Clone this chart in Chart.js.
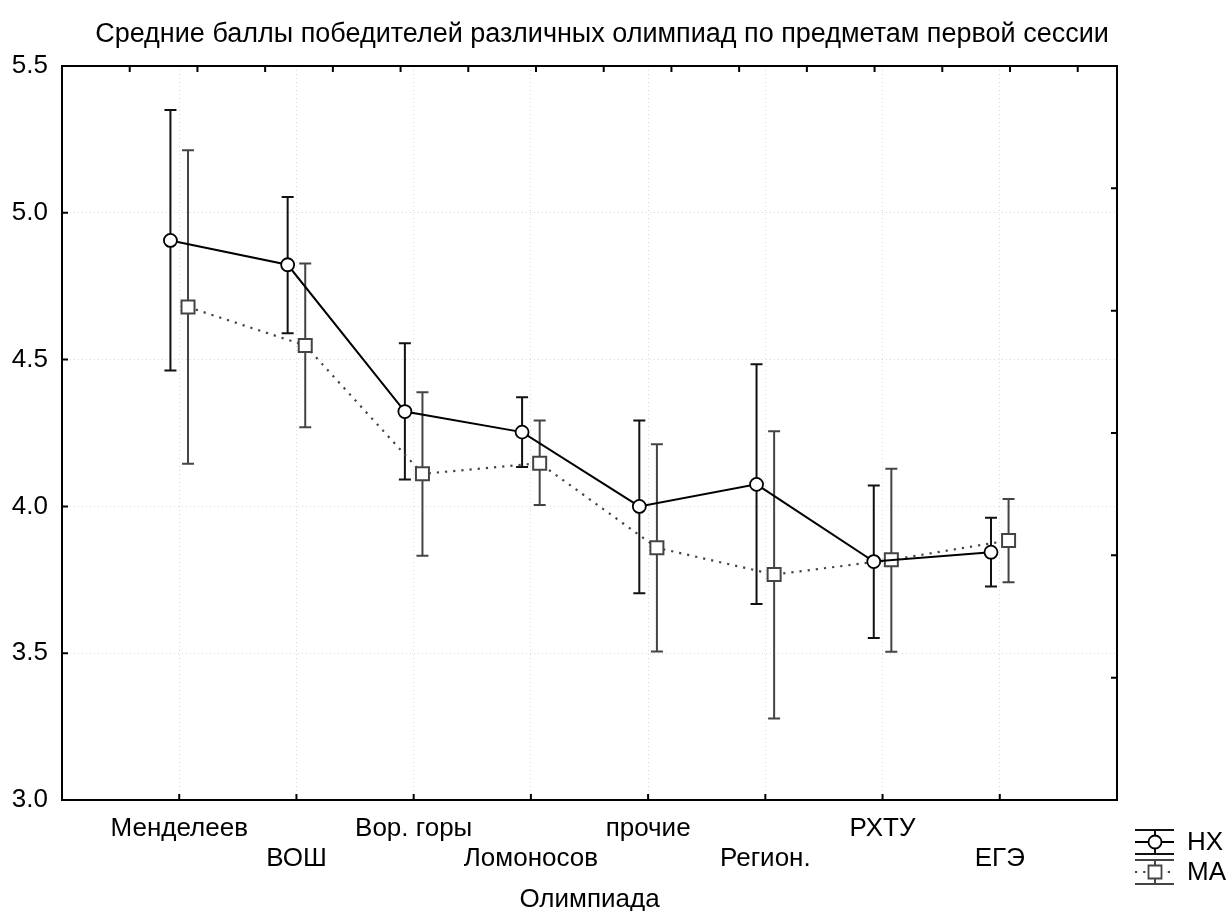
<!DOCTYPE html>
<html>
<head>
<meta charset="utf-8">
<script src="https://cdn.jsdelivr.net/npm/chart.js@4.4.1/dist/chart.umd.min.js"></script>
<style>
  body { margin: 0; background: #fff; }
  #wrap { width: 1228px; height: 911px; }
</style>
</head>
<body>
<div id="wrap"><canvas id="olympChart" width="1228" height="911"></canvas></div>
<script>
// Данные (средние и границы)
const categories = ['Менделеев', 'ВОШ', 'Вор. горы', 'Ломоносов', 'прочие', 'Регион.', 'РХТУ', 'ЕГЭ'];
const nxMean = [4.906, 4.823, 4.323, 4.253, 4.000, 4.075, 3.812, 3.844];
const nxLow  = [4.463, 4.590, 4.092, 4.134, 3.704, 3.668, 3.552, 3.727];
const nxHigh = [5.350, 5.054, 4.556, 4.372, 4.293, 4.484, 4.071, 3.961];
const maMean = [4.679, 4.548, 4.111, 4.147, 3.859, 3.768, 3.818, 3.884];
const maLow  = [4.145, 4.270, 3.832, 4.005, 3.506, 3.278, 3.505, 3.742];
const maHigh = [5.213, 4.827, 4.389, 4.293, 4.212, 4.256, 4.128, 4.025];
const seriesNames = ['НХ', 'МА'];

const FONT = "'Liberation Sans', Arial, sans-serif";

function buildPoints(mean, low, high, shift) {
    return mean.map((v, i) => ({ x: i + 1 + shift, y: v, low: low[i], high: high[i] }));
}

// Планки погрешностей
const errorBars = {
    id: 'errorBars',
    beforeDatasetsDraw(chart) {
        const ctx = chart.ctx;
        const xs = chart.scales.x, ys = chart.scales.y;
        chart.data.datasets.slice().reverse().forEach(ds => {
            ctx.save();
            ctx.strokeStyle = ds.barColor;
            ctx.lineWidth = 2;
            ds.data.forEach(p => {
                const px = xs.getPixelForValue(p.x);
                const top = ys.getPixelForValue(p.high);
                const bot = ys.getPixelForValue(p.low);
                ctx.beginPath();
                ctx.moveTo(px, top); ctx.lineTo(px, bot);
                ctx.moveTo(px - 6, top); ctx.lineTo(px + 6, top);
                ctx.moveTo(px - 6, bot); ctx.lineTo(px + 6, bot);
                ctx.stroke();
            });
            ctx.restore();
        });
    }
};

// Рамка и внутренние засечки
const frameTicks = {
    id: 'frameTicks',
    afterDraw(chart) {
        const ctx = chart.ctx;
        const a = chart.chartArea;
        const s = chart.scales;
        const len = 6;
        ctx.save();
        ctx.strokeStyle = '#000';
        ctx.lineWidth = 2;
        ctx.strokeRect(a.left, a.top, a.right - a.left, a.bottom - a.top);
        ctx.beginPath();
        s.y.ticks.forEach(t => {
            const py = s.y.getPixelForValue(t.value);
            ctx.moveTo(a.left, py); ctx.lineTo(a.left + len, py);
        });
        s.x.ticks.forEach(t => {
            const px = s.x.getPixelForValue(t.value);
            ctx.moveTo(px, a.bottom); ctx.lineTo(px, a.bottom - len);
        });
        for (let k = 1; k < s.x2.max; k++) {
            const px = s.x2.getPixelForValue(k);
            ctx.moveTo(px, a.top); ctx.lineTo(px, a.top + len);
        }
        for (let k = 1; k < s.y2.max; k++) {
            const py = s.y2.getPixelForValue(k);
            ctx.moveTo(a.right, py); ctx.lineTo(a.right - len, py);
        }
        ctx.stroke();
        ctx.restore();
    }
};

// Легенда справа внизу
const cornerLegend = {
    id: 'cornerLegend',
    afterDraw(chart) {
        const ctx = chart.ctx;
        const x0 = 1135, x1 = 1174, cx = 1155;
        chart.data.datasets.forEach((ds, i) => {
            const cy = 842 + i * 30;
            ctx.save();
            ctx.strokeStyle = ds.barColor;
            ctx.lineWidth = 2;
            ctx.beginPath();
            ctx.moveTo(x0, cy - 12); ctx.lineTo(x1, cy - 12);
            ctx.moveTo(x0, cy + 12); ctx.lineTo(x1, cy + 12);
            ctx.moveTo(cx, cy - 12); ctx.lineTo(cx, cy + 12);
            ctx.stroke();
            ctx.strokeStyle = ds.borderColor;
            ctx.setLineDash(ds.borderDash || []);
            ctx.beginPath();
            ctx.moveTo(x0, cy); ctx.lineTo(x1, cy);
            ctx.stroke();
            ctx.setLineDash([]);
            ctx.fillStyle = '#fff';
            ctx.strokeStyle = ds.pointBorderColor;
            ctx.lineWidth = 1.8;
            ctx.beginPath();
            if (ds.pointStyle === 'rect') {
                ctx.rect(cx - 6.5, cy - 6.5, 13, 13);
            } else {
                ctx.arc(cx, cy, 6.5, 0, Math.PI * 2);
            }
            ctx.fill();
            ctx.stroke();
            ctx.fillStyle = '#000';
            ctx.font = '26px ' + FONT;
            ctx.textBaseline = 'middle';
            ctx.fillText(ds.label, 1187, cy + 1);
            ctx.restore();
        });
    }
};

const ctx = document.getElementById('olympChart').getContext('2d');
new Chart(ctx, {
    type: 'line',
    data: {
        datasets: [{
            label: seriesNames[0],
            data: buildPoints(nxMean, nxLow, nxHigh, -0.075),
            borderColor: '#000',
            borderWidth: 2,
            barColor: '#111',
            pointStyle: 'circle',
            pointRadius: 6.5,
            pointBorderWidth: 1.8,
            pointBorderColor: '#000',
            pointBackgroundColor: '#fff',
            tension: 0
        }, {
            label: seriesNames[1],
            data: buildPoints(maMean, maLow, maHigh, 0.075),
            borderColor: '#444',
            borderWidth: 2.2,
            borderDash: [2.2, 6],
            barColor: '#444',
            pointStyle: 'rect',
            pointRadius: 9.2,
            pointBorderWidth: 2,
            pointBorderColor: '#444',
            pointBackgroundColor: '#fff',
            tension: 0
        }]
    },
    options: {
        responsive: false,
        animation: false,
        devicePixelRatio: 1,
        layout: { padding: { left: 0, right: 24, top: 0, bottom: 0 } },
        plugins: {
            legend: { display: false },
            tooltip: { enabled: false },
            title: {
                display: true,
                text: 'Средние баллы победителей различных олимпиад по предметам первой сессии',
                color: '#000',
                font: { family: FONT, size: 27, weight: 'normal', lineHeight: 1.2 },
                padding: { top: 18.8, bottom: 14.8 }
            }
        },
        scales: {
            x: {
                type: 'linear',
                position: 'bottom',
                min: 0,
                max: 9,
                afterBuildTicks: scale => {
                    scale.ticks = categories.map((c, i) => ({ value: i + 1 }));
                },
                afterFit: scale => { scale.height = 111; },
                ticks: {
                    autoSkip: false,
                    maxRotation: 0,
                    padding: 14,
                    color: '#000',
                    font: { family: FONT, size: 26, lineHeight: '30px' },
                    callback: value => {
                        const i = Math.round(value) - 1;
                        return i % 2 === 0 ? [categories[i], ''] : ['', categories[i]];
                    }
                },
                grid: {
                    drawTicks: false,
                    color: '#d9d9d9',
                    lineWidth: 1
                },
                border: { display: false, dash: [1, 3] },
                title: {
                    display: true,
                    text: 'Олимпиада',
                    color: '#000',
                    font: { family: FONT, size: 26, lineHeight: 0.85 },
                    padding: { top: 0, bottom: 0 }
                }
            },
            y: {
                position: 'left',
                min: 3,
                max: 5.5,
                afterFit: scale => { scale.width = 62; },
                ticks: {
                    stepSize: 0.5,
                    padding: 14,
                    color: '#000',
                    font: { family: FONT, size: 26 },
                    callback: v => v.toFixed(1)
                },
                grid: {
                    drawTicks: false,
                    color: '#d9d9d9',
                    lineWidth: 1
                },
                border: { display: false, dash: [1, 3] }
            },
            x2: {
                type: 'linear',
                position: 'top',
                display: false,
                min: 0,
                max: 15.58
            },
            y2: {
                type: 'linear',
                position: 'right',
                min: 0,
                max: 6,
                afterFit: scale => { scale.width = 87; },
                ticks: { display: false },
                grid: { display: false },
                border: { display: false }
            }
        }
    },
    plugins: [errorBars, frameTicks, cornerLegend]
});
</script>
</body>
</html>
